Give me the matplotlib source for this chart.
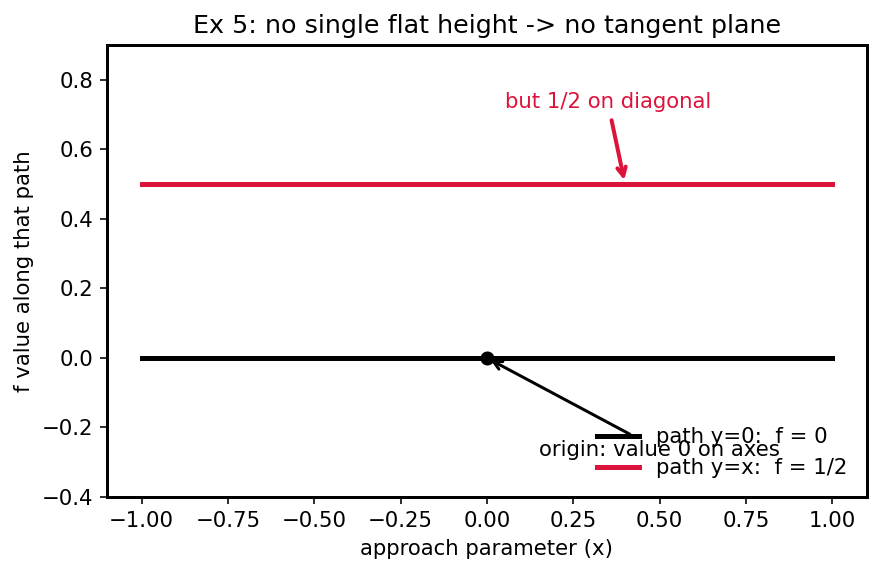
import numpy as np
import matplotlib.pyplot as plt

# data
x_path = [-1.0, 1.0]
f_axis = [0.0, 0.0]
f_diag = [0.5, 0.5]
origin = (0.0, 0.0)

plt.rcParams['font.size'] = 10.6

fig = plt.figure(figsize=(880 / 144, 573 / 144), dpi=144)
ax = fig.add_axes([0.1216, 0.1326, 0.8634, 0.7889])

ax.plot(x_path, f_axis, color='black', lw=2.5, label='path y=0:  f = 0')
ax.plot(x_path, f_diag, color='crimson', lw=2.5, label='path y=x:  f = 1/2')
ax.plot(*origin, 'o', color='black', ms=6)

ax.annotate('origin: value 0 on axes', xy=origin, xytext=(0.5, -0.265),
            ha='center', va='center',
            arrowprops=dict(arrowstyle='->', color='black', lw=1.5))
ax.annotate('but 1/2 on diagonal', xy=(0.4, 0.5), xytext=(0.35, 0.735),
            ha='center', va='center', color='crimson',
            arrowprops=dict(arrowstyle='->', color='crimson', lw=2))

ax.set_ylim(-0.4, 0.9)
ax.set_title('Ex 5: no single flat height -> no tangent plane', fontsize=12.7)
ax.set_xlabel('approach parameter (x)')
ax.set_ylabel('f value along that path')
for s in ax.spines.values():
    s.set_linewidth(1.5)
ax.legend(loc='lower right', frameon=False)

plt.savefig('out.png', dpi=144)
